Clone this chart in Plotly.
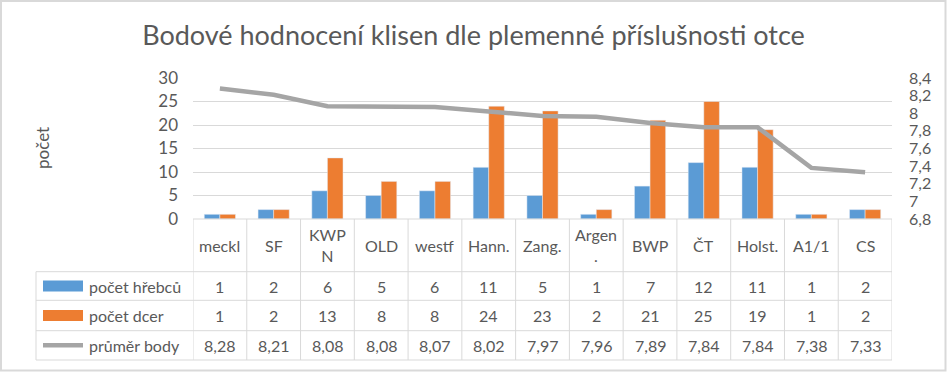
import plotly.graph_objects as go

# ---- data ----
categories = ["meckl", "SF", "KWP<br>N", "OLD", "westf", "Hann.", "Zang.",
              "Argen<br>.", "BWP", "ČT", "Holst.", "A1/1", "CS"]
stallions = [1, 2, 6, 5, 6, 11, 5, 1, 7, 12, 11, 1, 2]
daughters = [1, 2, 13, 8, 8, 24, 23, 2, 21, 25, 19, 1, 2]
avg_points = [8.28, 8.21, 8.08, 8.08, 8.07, 8.02, 7.97, 7.96, 7.89, 7.84, 7.84, 7.38, 7.33]
series_names = ["počet hřebců", "počet dcer", "průměr body"]
left_ticks = [0, 5, 10, 15, 20, 25, 30]
right_tickvals = [6.8, 7.0, 7.2, 7.4, 7.6, 7.8, 8.0, 8.2, 8.4]
right_ticktext = ["6,8", "7", "7,2", "7,4", "7,6", "7,8", "8", "8,2", "8,4"]
title_text = "Bodové hodnocení klisen dle plemenné příslušnosti otce"
y_title = "počet"

# ---- style / layout ----
W, H = 947, 372
PL, PR, PT, PB = 193, 892, 78, 219  # plot area in pixels
BLUE, ORANGE, GRAY = "#5B9BD5", "#ED7D31", "#A5A5A5"
GRID = "#D9D9D9"
TXT = "#595959"
FONT = "Lato"

def pyp(py):
    return (PB - py) / (PB - PT)

def pxp(px):
    return (px - PL) / (PR - PL)

n = len(categories)
xs = list(range(n))

fig = go.Figure()
fig.add_bar(x=xs, y=stallions, name=series_names[0], marker_color=BLUE)
fig.add_bar(x=xs, y=daughters, name=series_names[1], marker_color=ORANGE)
fig.add_scatter(x=xs, y=avg_points, name=series_names[2], mode="lines",
                line=dict(color=GRAY, width=4.5), yaxis="y2")

shapes = []
annotations = []

# table row boundaries (pixels)
row_top = PB
row_edges = [271.7, 300.3, 330.7, 360.0]
legend_left = 36

line_style = dict(color=GRID, width=1)
shapes.append(dict(type="line", xref="paper", yref="paper",
                   x0=0, x1=1, y0=pyp(row_top), y1=pyp(row_top), line=line_style))
for ry in row_edges:
    shapes.append(dict(type="line", xref="paper", yref="paper",
                       x0=pxp(legend_left), x1=1, y0=pyp(ry), y1=pyp(ry), line=line_style))
shapes.append(dict(type="line", xref="paper", yref="paper",
                   x0=pxp(legend_left), x1=pxp(legend_left),
                   y0=pyp(row_edges[0]), y1=pyp(row_edges[-1]), line=line_style))
for k in range(n + 1):
    shapes.append(dict(type="line", xref="x", yref="paper",
                       x0=k - 0.5, x1=k - 0.5, y0=pyp(row_top), y1=pyp(row_edges[-1]),
                       line=line_style))

# legend keys
k1 = (row_edges[0] + row_edges[1]) / 2
k2 = (row_edges[1] + row_edges[2]) / 2
k3 = (row_edges[2] + row_edges[3]) / 2
shapes.append(dict(type="rect", xref="paper", yref="paper", x0=pxp(43), x1=pxp(83),
                   y0=pyp(k1 - 5.5), y1=pyp(k1 + 5.5), fillcolor=BLUE, line=dict(width=0)))
shapes.append(dict(type="rect", xref="paper", yref="paper", x0=pxp(43), x1=pxp(83),
                   y0=pyp(k2 - 5.5), y1=pyp(k2 + 5.5), fillcolor=ORANGE, line=dict(width=0)))
shapes.append(dict(type="line", xref="paper", yref="paper", x0=pxp(43), x1=pxp(83),
                   y0=pyp(k3), y1=pyp(k3), line=dict(color=GRAY, width=4.5)))

# chart border
shapes.append(dict(type="rect", xref="paper", yref="paper",
                   x0=pxp(1), x1=pxp(945.5), y0=pyp(1), y1=pyp(370.5),
                   line=dict(color=GRID, width=2), layer="below"))

tfont = dict(family=FONT, size=16, color=TXT)
cat_center = (row_top + row_edges[0]) / 2
for i, c in enumerate(categories):
    annotations.append(dict(x=i, y=pyp(cat_center), xref="x", yref="paper", text=c,
                            showarrow=False, font=tfont, xanchor="center", yanchor="middle"))
    annotations.append(dict(x=i, y=pyp(k1), xref="x", yref="paper", text=str(stallions[i]),
                            showarrow=False, font=tfont, xanchor="center", yanchor="middle"))
    annotations.append(dict(x=i, y=pyp(k2), xref="x", yref="paper", text=str(daughters[i]),
                            showarrow=False, font=tfont, xanchor="center", yanchor="middle"))
    annotations.append(dict(x=i, y=pyp(k3), xref="x", yref="paper",
                            text=f"{avg_points[i]:.2f}".replace(".", ","),
                            showarrow=False, font=tfont, xanchor="center", yanchor="middle"))

for name, ky in zip(series_names, [k1, k2, k3]):
    annotations.append(dict(x=pxp(87), y=pyp(ky), xref="paper", yref="paper", text=name,
                            showarrow=False, font=tfont, xanchor="left", yanchor="middle"))

annotations.append(dict(x=pxp(42), y=pyp(148), xref="paper", yref="paper", text=y_title,
                        textangle=-90, showarrow=False,
                        font=dict(family=FONT, size=17, color=TXT),
                        xanchor="center", yanchor="middle"))

fig.update_layout(
    width=W, height=H,
    margin=dict(l=PL, r=W - PR, t=PT, b=H - PB, pad=0),
    paper_bgcolor="white", plot_bgcolor="white",
    showlegend=False,
    barmode="group", bargap=0.42, bargroupgap=0,
    title=dict(text=title_text, x=0.5, xref="container", y=1 - 36 / H, yref="container",
               xanchor="center", yanchor="middle",
               font=dict(family=FONT, size=27, color=TXT)),
    xaxis=dict(range=[-0.5, n - 0.5], showticklabels=False, showgrid=False,
               zeroline=False, showline=False, fixedrange=True),
    yaxis=dict(range=[0, 30], tickvals=left_ticks, showgrid=True, gridcolor=GRID,
               gridwidth=1, zeroline=False, showline=False, ticks="",
               ticklabelstandoff=14,
               tickfont=dict(family=FONT, size=17, color=TXT)),
    yaxis2=dict(range=[6.8, 8.4], overlaying="y", side="right", tickvals=right_tickvals,
                ticktext=right_ticktext, showgrid=False, zeroline=False, showline=False,
                ticks="", ticklabelstandoff=16,
                tickfont=dict(family=FONT, size=16, color=TXT)),
    shapes=shapes, annotations=annotations,
    font=dict(family=FONT, color=TXT),
)

fig.write_html("out.html", config={"displayModeBar": False},
               post_script="document.body.style.margin='0';document.body.style.padding='0';")
